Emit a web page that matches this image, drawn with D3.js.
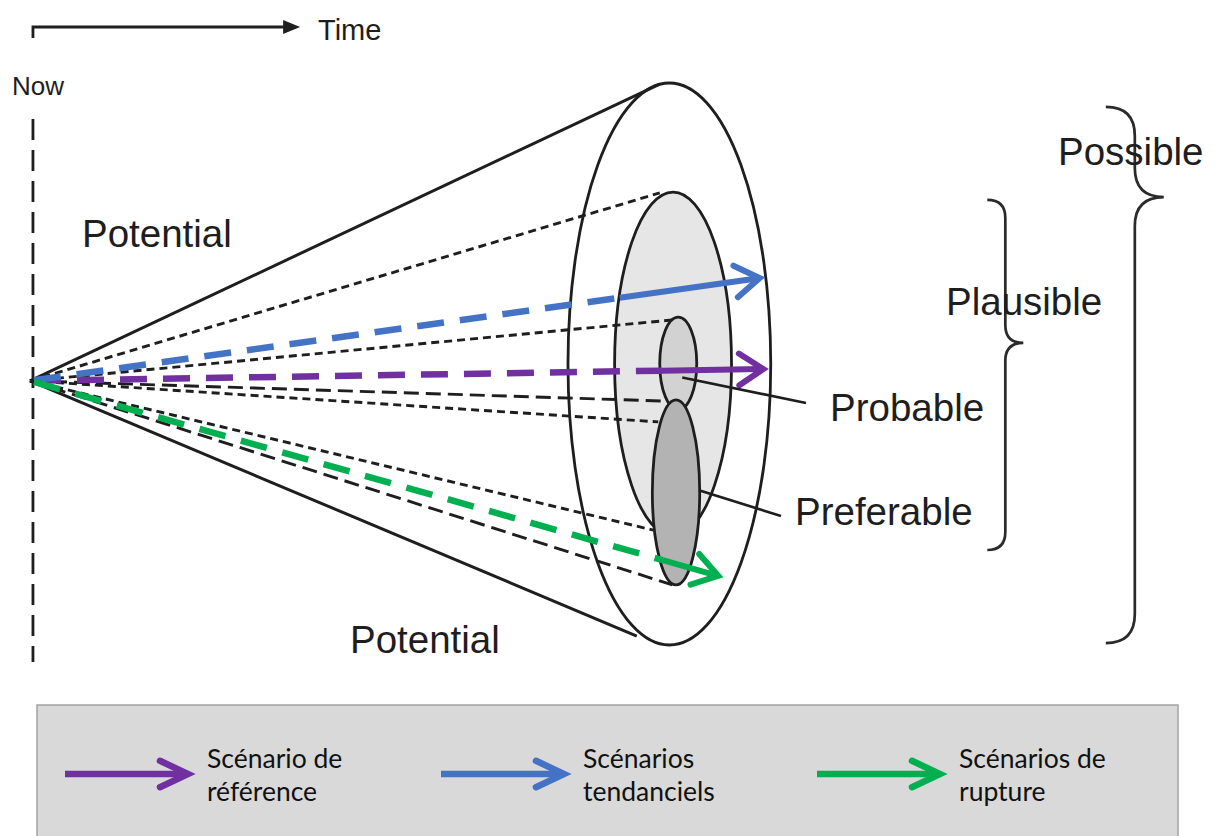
<!DOCTYPE html>
<html><head><meta charset="utf-8">
<script src="https://cdn.jsdelivr.net/npm/d3@7"></script>
<style>body{margin:0;background:#fff}svg{display:block}</style>
</head><body>
<svg id="c" width="1215" height="836"></svg>
<script>
// ---- data (t = time from "now", v = spread of futures) ----
const ellipseNames = ["Possible", "Plausible", "Probable", "Preferable"];
const ellipseT  = [86.4, 86.9, 87.6, 87.3];
const ellipseV  = [0, 0, 0.2, -45.7];
const ellipseRT = [13.7, 7.9, 2.5, 3.2];
const ellipseRV = [100, 61.2, 16.5, 32.9];

const originT = 0, originV = -6.0;
const coneEndT = [85.1, 82.0];
const coneEndV = [99.6, -96.8];
const shortGuideT = [85.1, 86.9, 84.9, 84.2];
const shortGuideV = [60.9, 15.7, -20.6, -59.1];
const longGuideT = [85.8, 86.8];
const longGuideV = [-13.2, -78.6];

const scenarioNames = ["Scénario de référence", "Scénarios tendanciels", "Scénarios de rupture"];
const scenarioLines = [["Scénario de", "référence"], ["Scénarios", "tendanciels"], ["Scénarios de", "rupture"]];
const scenarioEndT = [99.1, 98.6, 93.0];
const scenarioEndV = [-1.8, 30.6, -75.4];
const scenarioSolidFromT = [85.4, 79.7, 85.5];

const nowT = 0.4;
const timeArrowEndT = 36.5;
const braceLabels = ["Plausible", "Possible"];
const braceTopV = [58.4, 91.5];
const braceTipV = [7.5, 59.4];
const braceBotV = [-66.2, -99.3];
const braceSpineT = [131.8, 149.3];

// ---- scales ----
const x = d3.scaleLinear().domain([0, 100]).range([30, 770]);
const y = d3.scaleLinear().domain([-100, 100]).range([645, 83]);
const kx = x(1) - x(0), ky = y(0) - y(1);

const svg = d3.select("#c");
const ink = "#1e1e1e";
const scenarioColors = ["#7030a0", "#4472c4", "#00b050"];
const ellipseFills = ["none", "#e6e6e6", "#d2d2d2", "#b3b3b3"];
const font = "'Liberation Sans', Arial, sans-serif";

// Time arrow
svg.append("path").attr("d", `M${x(nowT)},38 L${x(nowT)},27 L${x(timeArrowEndT) - 14},27`)
  .attr("fill", "none").attr("stroke", ink).attr("stroke-width", 2.8);
svg.append("path").attr("d", `M${x(timeArrowEndT)},27 L${x(timeArrowEndT) - 17},20 L${x(timeArrowEndT) - 17},34 Z`).attr("fill", ink);
svg.append("text").attr("x", 318).attr("y", 40).text("Time")
  .attr("font-family", font).attr("font-size", 29).attr("fill", ink);
svg.append("text").attr("x", 12).attr("y", 95).text("Now")
  .attr("font-family", font).attr("font-size", 26).attr("fill", ink);

// Now dashed line
svg.append("line").attr("x1", x(nowT)).attr("x2", x(nowT)).attr("y1", 119).attr("y2", 662)
  .attr("stroke", ink).attr("stroke-width", 2.8).attr("stroke-dasharray", "21,10");

// Ellipses
const ell = svg.append("g");
ellipseNames.forEach((n, i) => {
  ell.append("ellipse")
    .attr("cx", x(ellipseT[i])).attr("cy", y(ellipseV[i]))
    .attr("rx", ellipseRT[i] * kx).attr("ry", ellipseRV[i] * ky)
    .attr("fill", ellipseFills[i]).attr("stroke", ink).attr("stroke-width", 2.8);
});

// Cone lines
const ox = x(originT), oy = y(originV);
coneEndT.forEach((t, i) => {
  svg.append("line").attr("x1", ox).attr("y1", oy).attr("x2", x(t)).attr("y2", y(coneEndV[i]))
    .attr("stroke", ink).attr("stroke-width", 3);
});
shortGuideT.forEach((t, i) => {
  svg.append("line").attr("x1", ox).attr("y1", oy).attr("x2", x(t)).attr("y2", y(shortGuideV[i]))
    .attr("stroke", ink).attr("stroke-width", 2.9).attr("stroke-dasharray", "8,5");
});
longGuideT.forEach((t, i) => {
  svg.append("line").attr("x1", ox).attr("y1", oy).attr("x2", x(t)).attr("y2", y(longGuideV[i]))
    .attr("stroke", ink).attr("stroke-width", 2.9).attr("stroke-dasharray", "15,7");
});

function chevron(g, tx, ty, ang, len, spread, color, w) {
  const a1 = ang + Math.PI - spread, a2 = ang + Math.PI + spread;
  g.append("path")
    .attr("d", `M${tx + len * Math.cos(a1)},${ty + len * Math.sin(a1)} L${tx},${ty} L${tx + len * Math.cos(a2)},${ty + len * Math.sin(a2)}`)
    .attr("fill", "none").attr("stroke", color).attr("stroke-width", w)
    .attr("stroke-linecap", "round").attr("stroke-linejoin", "miter");
}

// Scenario arrows
scenarioNames.forEach((n, i) => {
  const ex = x(scenarioEndT[i]), ey = y(scenarioEndV[i]);
  const f = (x(scenarioSolidFromT[i]) - ox) / (ex - ox);
  const sx = ox + f * (ex - ox), sy = oy + f * (ey - oy);
  const ang = Math.atan2(ey - oy, ex - ox);
  const g = svg.append("g");
  g.append("line").attr("x1", ox + 4).attr("y1", oy + 4 * Math.tan(ang)).attr("x2", sx).attr("y2", sy)
    .attr("stroke", scenarioColors[i]).attr("stroke-width", 6.5).attr("stroke-dasharray", "27,16");
  g.append("line").attr("x1", sx).attr("y1", sy)
    .attr("x2", ex - 3 * Math.cos(ang)).attr("y2", ey - 3 * Math.sin(ang))
    .attr("stroke", scenarioColors[i]).attr("stroke-width", 6);
  chevron(g, ex, ey, ang, 29, 0.58, scenarioColors[i], 6);
});

// Leader lines
svg.append("line").attr("x1", x(ellipseT[2]) + 4).attr("y1", y(ellipseV[2]) + 14).attr("x2", 806).attr("y2", 403)
  .attr("stroke", ink).attr("stroke-width", 2.6);
svg.append("line").attr("x1", x(ellipseT[3]) + ellipseRT[3] * kx).attr("y1", y(ellipseV[3]) - 2).attr("x2", 781).attr("y2", 516)
  .attr("stroke", ink).attr("stroke-width", 2.6);

// Braces
function brace(bx, yTop, yTip, yBot, r) {
  return `M${bx - r},${yTop} Q${bx},${yTop} ${bx},${yTop + r} L${bx},${yTip - r} Q${bx},${yTip} ${bx + r},${yTip} ` +
         `Q${bx},${yTip} ${bx},${yTip + r} L${bx},${yBot - r} Q${bx},${yBot} ${bx - r},${yBot}`;
}
const braceR = [18, 29];
braceLabels.forEach((n, i) => {
  svg.append("path").attr("d", brace(x(braceSpineT[i]), y(braceTopV[i]), y(braceTipV[i]), y(braceBotV[i]), braceR[i]))
    .attr("fill", "none").attr("stroke", "#2a2a2a").attr("stroke-width", 2.7);
});

// Labels
const labelText = ["Potential", "Potential", "Probable", "Preferable", "Plausible", "Possible"];
const labelPos = [[82, 247], [350, 653], [830, 421], [795, 525], [946, 315], [1058, 165]];
svg.append("g").selectAll("text").data(labelText).join("text")
  .attr("x", (d, i) => labelPos[i][0]).attr("y", (d, i) => labelPos[i][1])
  .attr("font-family", font).attr("font-size", 38.5).attr("fill", ink).text(d => d);

// Legend
const lg = svg.append("g");
lg.append("rect").attr("x", 37).attr("y", 705).attr("width", 1141).attr("height", 150)
  .attr("fill", "#d9d9d9").attr("stroke", "#a3a3a3").attr("stroke-width", 1.5);
const legendX = d3.scalePoint().domain(scenarioNames).range([65, 817]);
scenarioNames.forEach((n, i) => {
  const lx = legendX(n);
  const c = scenarioColors[i];
  lg.append("line").attr("x1", lx).attr("x2", lx + 120).attr("y1", 774).attr("y2", 774)
    .attr("stroke", c).attr("stroke-width", 6.5);
  chevron(lg, lx + 123, 774, 0, 31, 0.44, c, 6.5);
  const t = lg.append("text").attr("font-family", "Lato, 'Open Sans', sans-serif").attr("font-size", 26.5).attr("fill", "#111");
  scenarioLines[i].forEach((s, j) => {
    t.append("tspan").attr("x", lx + 142).attr("y", 768 + j * 33).text(s);
  });
});
</script>
</body></html>
